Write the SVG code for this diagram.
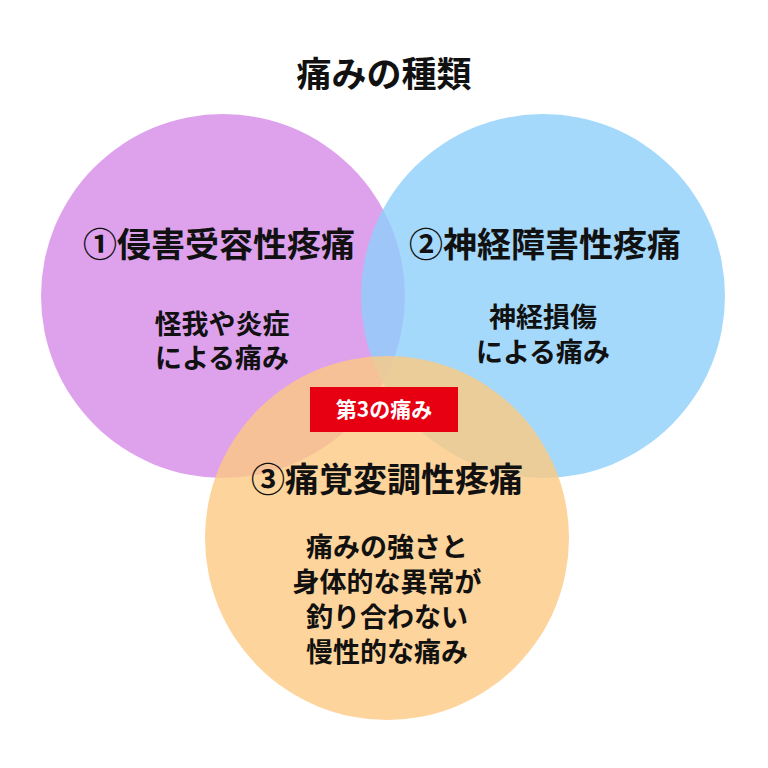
<svg xmlns="http://www.w3.org/2000/svg" width="768" height="768" viewBox="0 0 768 768">
<style>
text{font-family:"Noto Sans CJK JP","Noto Sans",sans-serif;text-anchor:middle;fill:#111}
.h{font-size:34px;font-weight:700}
.b{font-size:27px;font-weight:700}
.c{opacity:0.8}
</style>
<rect width="768" height="768" fill="#fff"/>
<g id="circle1"><circle class="c" cx="223" cy="296" r="182" fill="#d68be9"/></g>
<g id="circle2"><circle class="c" cx="543" cy="296" r="182" fill="#8fd0fa"/></g>
<g id="circle3"><circle class="c" cx="387" cy="538" r="182" fill="#fcc982"/></g>
<g id="connectors"></g>
<text class="h" x="384" y="87" style="font-size:35px">痛みの種類</text>
<g id="n1"><text class="h" x="219" y="257">①侵害受容性疼痛</text>
<text class="b" x="222" y="334">怪我や炎症</text><text class="b" x="222" y="368">による痛み</text></g>
<g id="n2"><text class="h" x="545" y="257">②神経障害性疼痛</text>
<text class="b" x="543" y="327">神経損傷</text><text class="b" x="543" y="362">による痛み</text></g>
<g id="badge"><rect x="310" y="387" width="148" height="45" fill="#e60012"/><text x="384" y="417" style="font-size:21px;font-weight:700;fill:#fff">第3の痛み</text></g>
<g id="n3"><text class="h" x="387" y="492">③痛覚変調性疼痛</text>
<text class="b" x="387" y="557">痛みの強さと</text><text class="b" x="387" y="592">身体的な異常が</text><text class="b" x="387" y="627">釣り合わない</text><text class="b" x="387" y="662">慢性的な痛み</text></g>
</svg>
